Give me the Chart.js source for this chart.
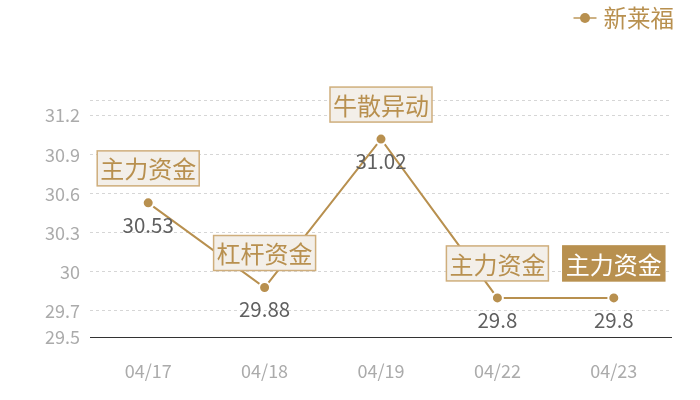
<!DOCTYPE html>
<html>
<head>
<meta charset="utf-8">
<script src="https://cdn.jsdelivr.net/npm/chart.js@4/dist/chart.umd.min.js"></script>
<style>
    html, body {margin: 0; padding: 0; background: #fff;}
    #wrap {width: 700px; height: 400px;}
</style>
</head>
<body>
<div id="wrap"><canvas id="priceChart" width="700" height="400"></canvas></div>
<script>
const seriesName = '新莱福';
const dates = ['04/17', '04/18', '04/19', '04/22', '04/23'];
const prices = [30.53, 29.88, 31.02, 29.8, 29.8];
const tags = ['主力资金', '杠杆资金', '牛散异动', '主力资金', '主力资金'];
const tagFilled = [false, false, false, false, true];
const yTicks = [29.5, 29.7, 30, 30.3, 30.6, 30.9, 31.2];
const yMin = 29.5;
const yMax = 31.32;

const GOLD = '#b8904f';
const FONT = '"Noto Sans CJK SC", "Noto Sans", sans-serif';

// 标签框 + 数值 + 图例
const tagPlugin = {
    id: 'tagPlugin',
    afterDatasetsDraw(chart) {
        const ctx = chart.ctx;
        const x = chart.scales.x;
        const y = chart.scales.y;
        ctx.save();
        prices.forEach((v, i) => {
            const px = x.getPixelForValue(i);
            const py = y.getPixelForValue(v);

            // 数值在点下方
            ctx.font = '20.5px ' + FONT;
            ctx.fillStyle = '#5f5f5f';
            ctx.textAlign = 'center';
            ctx.textBaseline = 'middle';
            ctx.fillText(String(v), px, py + 22);

            // 标签框在点上方
            ctx.font = '24px ' + FONT;
            const w = ctx.measureText(tags[i]).width + 6;
            const h = 35;
            const bx = px - w / 2;
            const by = py - 17 - h;
            ctx.fillStyle = tagFilled[i] ? GOLD : '#f3efe9';
            ctx.fillRect(bx, by, w, h);
            ctx.strokeStyle = tagFilled[i] ? GOLD : '#cfae7c';
            ctx.lineWidth = 1.5;
            ctx.strokeRect(bx, by, w, h);
            ctx.fillStyle = tagFilled[i] ? '#fff' : GOLD;
            ctx.fillText(tags[i], px, by + h / 2 + 1);
        });

        // 图例
        ctx.font = '23.5px ' + FONT;
        ctx.textAlign = 'left';
        ctx.textBaseline = 'middle';
        const tw = ctx.measureText(seriesName).width;
        const tx = 674 - tw;
        const ly = 18;
        ctx.strokeStyle = GOLD;
        ctx.globalAlpha = 0.7;
        ctx.lineWidth = 2;
        ctx.beginPath();
        ctx.moveTo(tx - 30, ly);
        ctx.lineTo(tx - 7, ly);
        ctx.stroke();
        ctx.globalAlpha = 1;
        ctx.fillStyle = GOLD;
        ctx.beginPath();
        ctx.arc(tx - 18.5, ly, 5, 0, Math.PI * 2);
        ctx.fill();
        ctx.fillText(seriesName, tx, ly);
        ctx.restore();
    }
};

new Chart(document.getElementById('priceChart'), {
    type: 'line',
    data: {
        labels: dates,
        datasets: [{
            label: seriesName,
            data: prices,
            borderColor: GOLD,
            borderWidth: 2,
            backgroundColor: GOLD,
            pointBackgroundColor: GOLD,
            pointBorderColor: '#fff',
            pointBorderWidth: 2,
            pointRadius: 5.5,
            tension: 0
        }]
    },
    options: {
        responsive: false,
        animation: false,
        devicePixelRatio: 1,
        layout: {padding: {top: 100, right: 28, bottom: 0, left: 0}},
        plugins: {
            legend: {display: false},
            tooltip: {enabled: false}
        },
        scales: {
            x: {
                offset: true,
                grid: {display: false, drawTicks: false},
                border: {display: false},
                ticks: {color: '#ababab', font: {size: 18, family: FONT}, padding: 23},
                afterFit(scale) { scale.height = 63; }
            },
            y: {
                min: yMin,
                max: yMax,
                afterBuildTicks(scale) {
                    scale.ticks = yTicks.concat([yMax]).map(v => ({value: v}));
                },
                grid: {
                    drawTicks: false,
                    color: (c) => c.tick && c.tick.value === yMin ? 'rgba(0,0,0,0)' : '#d6d6d6',
                    lineWidth: 1
                },
                border: {display: false, dash: [3, 3]},
                ticks: {
                    color: '#ababab',
                    font: {size: 18, family: FONT},
                    padding: 10,
                    callback: (v) => v === yMax ? '' : String(v)
                },
                afterFit(scale) { scale.width = 90; }
            }
        }
    },
    plugins: [tagPlugin, {
        id: 'baseLine',
        beforeDatasetsDraw(chart) {
            const {ctx, chartArea} = chart;
            ctx.save();
            ctx.strokeStyle = '#333';
            ctx.lineWidth = 1;
            ctx.beginPath();
            ctx.moveTo(chartArea.left, chartArea.bottom + 0.5);
            ctx.lineTo(chartArea.right, chartArea.bottom + 0.5);
            ctx.stroke();
            ctx.restore();
        }
    }]
});
</script>
</body>
</html>
